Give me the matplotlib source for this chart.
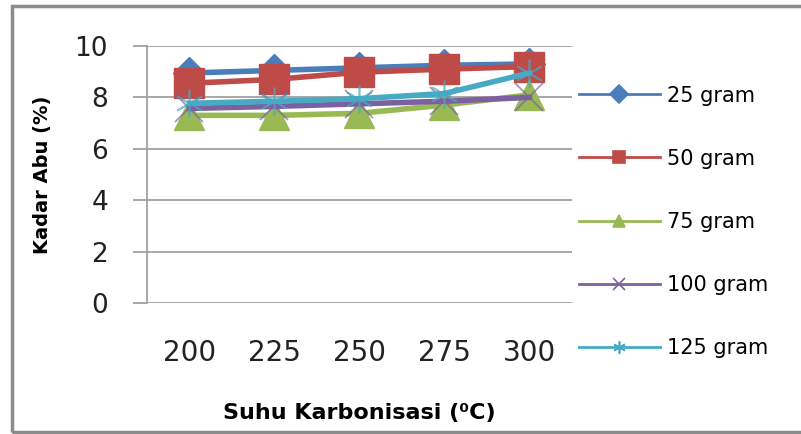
import matplotlib.pyplot as plt
from matplotlib.lines import Line2D
from matplotlib.patches import Rectangle

# data
suhu = ['200', '225', '250', '275', '300']
labels = ['25 gram', '50 gram', '75 gram', '100 gram', '125 gram']
g25 = [8.95, 9.05, 9.15, 9.25, 9.3]
g50 = [8.55, 8.7, 8.98, 9.1, 9.2]
g75 = [7.3, 7.3, 7.38, 7.7, 8.1]
g100 = [7.57, 7.65, 7.75, 7.85, 8.0]
g125 = [7.77, 7.85, 7.95, 8.15, 8.95]

series = [g25, g50, g75, g100, g125]
colors = ['#4A7EBB', '#BE4B48', '#98B954', '#7D60A0', '#46AAC5']
markers = ['D', 's', '^', 'x', '*']
msizes = [16, 22, 22, 20, 20]

fig = plt.figure(figsize=(8.01, 4.34), dpi=100)
ax = fig.add_axes([0.1835, 0.302, 0.5305, 0.592])

x = range(len(suhu))
for vals, c, m, ms in zip(series, colors, markers, msizes):
    if m in ('x', '*'):
        # thin open markers like excel
        ax.plot(x, vals, color=c, lw=4, zorder=3)
        ax.plot(x, vals, ls='none', marker='x' if m == 'x' else (6, 2, 0),
                ms=ms, mew=1.2, color=c, alpha=0.7, zorder=3)
    else:
        ax.plot(x, vals, color=c, lw=4, marker=m, ms=ms, mec=c, zorder=3)

ax.set_xlim(-0.5, 4.5)
ax.set_ylim(0, 10)
ax.set_yticks([0, 2, 4, 6, 8, 10])
ax.set_xticks(list(x))
ax.set_xticklabels(suhu)
ax.grid(axis='y', color='#A0A0A0', lw=1.3)
ax.set_axisbelow(True)
for s in ['top', 'right', 'bottom']:
    ax.spines[s].set_visible(False)
ax.spines['left'].set_color('#A0A0A0')
ax.spines['left'].set_linewidth(1.3)
ax.tick_params(axis='y', length=10, width=1.3, color='#A0A0A0', pad=18,
               labelsize=19, labelcolor='#222222')
ax.tick_params(axis='x', length=0, pad=26, labelsize=20, labelcolor='#222222')

ax.set_ylabel('Kadar Abu (%)', fontsize=14, fontweight='bold', labelpad=16)
ax.set_xlabel('Suhu Karbonisasi (⁰C)', fontsize=16, fontweight='bold', labelpad=26)

handles = []
for c, m in zip(colors, markers):
    mk = m if m != '*' else (6, 2, 0)
    handles.append(Line2D([], [], color=c, lw=2, marker=mk, ms=9, mec=c, mew=1.2))
fig.legend(handles, labels, loc='upper left', bbox_to_anchor=(0.712, 0.822),
           frameon=False, fontsize=15, handlelength=3.9, handletextpad=0.35,
           labelspacing=2.07, borderaxespad=0)

# outer chart border
fig.add_artist(Rectangle((0.015, 0.005), 1.2, 0.982, transform=fig.transFigure,
                         fill=False, ec='#8C8C8C', lw=2.5))

fig.savefig('out.png', dpi=100)
